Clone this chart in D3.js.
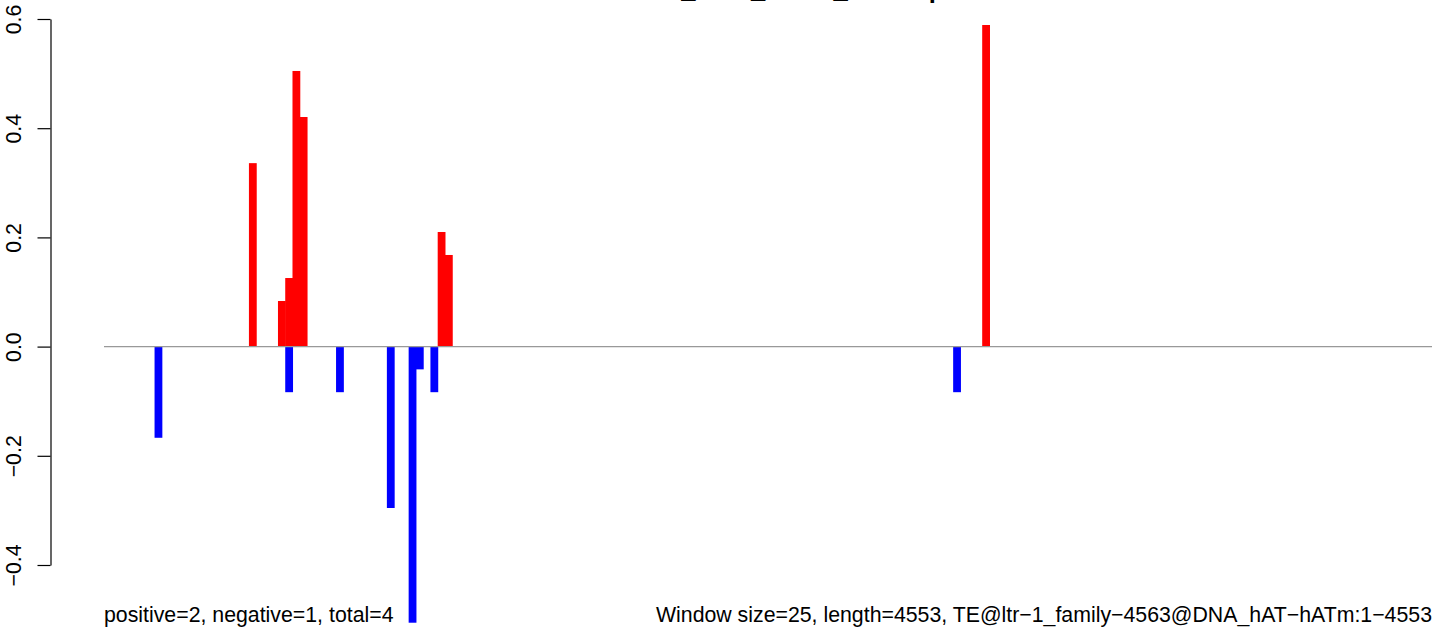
<!DOCTYPE html>
<html>
<head>
<meta charset="utf-8">
<script src="https://cdn.jsdelivr.net/npm/d3@7"></script>
<style>
  html, body { margin: 0; padding: 0; background: #fff; }
  svg { display: block; }
  text { font-family: "Liberation Sans", Arial, Helvetica, sans-serif; }
</style>
</head>
<body>
<svg id="chart" width="1444" height="634"></svg>
<script>
// ---- data ----
const windowSize = 25;
const seqLength = 4553;
// positive (red) windows: start position (bp) and value
const posStarts = [500, 600, 625, 650, 675, 1150, 1175, 3025];
const posValues = [0.336, 0.0835, 0.1256, 0.5048, 0.4205, 0.2099, 0.1678, 0.589];
// negative (blue) windows
const negStarts = [175, 625, 800, 975, 1050, 1075, 1125, 2925];
const negValues = [-0.167, -0.0835, -0.0835, -0.2956, -0.5057, -0.0417, -0.0835, -0.0835];
const yTicks = [-0.4, -0.2, 0.0, 0.2, 0.4, 0.6];
const yTickLabels = ["\u22120.4", "\u22120.2", "0.0", "0.2", "0.4", "0.6"];
const titleText = "ovaries_run1_reads_cleanup";
const leftNote = "positive=2, negative=1, total=4";
const rightNote = "Window size=25, length=4553, TE@ltr\u22121_family\u22124563@DNA_hAT\u2212hATm:1\u22124553";

// ---- layout ----
const plotLeft = 104, plotRight = 1432;
const svg = d3.select("#chart");
const x = d3.scaleLinear().domain([0, 4573]).range([plotLeft, plotRight]);
const y = d3.scaleLinear().domain([-0.4, 0.6]).range([565, 19]);
const barW = 7.8;
const fs = 21.3;

// title (mostly clipped above the frame, as in the reference)
svg.append("text")
  .attr("x", (plotLeft + plotRight) / 2)
  .attr("y", -2)
  .attr("text-anchor", "middle")
  .attr("font-weight", "bold")
  .attr("font-size", 25.6)
  .attr("fill", "#000")
  .text(titleText);

// bars
const pos = posStarts.map((s, i) => ({ s, v: posValues[i] }));
const neg = negStarts.map((s, i) => ({ s, v: negValues[i] }));

svg.append("g").selectAll("rect").data(pos).join("rect")
  .attr("x", d => x(d.s + windowSize / 2) - barW / 2)
  .attr("width", barW)
  .attr("y", d => y(d.v))
  .attr("height", d => y(0) - y(d.v))
  .attr("fill", "#ff0000");

svg.append("g").selectAll("rect").data(neg).join("rect")
  .attr("x", d => x(d.s + windowSize / 2) - barW / 2)
  .attr("width", barW)
  .attr("y", y(0))
  .attr("height", d => y(d.v) - y(0))
  .attr("fill", "#0000ff");

// zero line
svg.append("line")
  .attr("x1", plotLeft).attr("x2", plotRight)
  .attr("y1", y(0)).attr("y2", y(0))
  .attr("stroke", "#999999")
  .attr("stroke-width", 1.2);

// y axis
const yAxis = d3.axisLeft(y)
  .tickValues(yTicks)
  .tickSize(13)
  .tickSizeOuter(0)
  .tickFormat((d, i) => yTickLabels[i]);

const gy = svg.append("g")
  .attr("transform", "translate(50.5,0)")
  .call(yAxis);
gy.select(".domain").attr("stroke", "#000").attr("stroke-width", 1.2);
gy.selectAll(".tick line").attr("stroke", "#000").attr("stroke-width", 1.2);
gy.selectAll(".tick text")
  .attr("x", 0)
  .attr("y", -29.5)
  .attr("dy", null)
  .attr("transform", "rotate(-90)")
  .attr("text-anchor", "middle")
  .attr("font-size", fs)
  .attr("font-family", "'Liberation Sans', Arial, sans-serif")
  .attr("fill", "#000");

// bottom notes
svg.append("text")
  .attr("x", plotLeft).attr("y", 622)
  .attr("text-anchor", "start")
  .attr("font-size", fs)
  .attr("fill", "#000")
  .text(leftNote);

svg.append("text")
  .attr("x", plotRight).attr("y", 622)
  .attr("text-anchor", "end")
  .attr("font-size", fs)
  .attr("fill", "#000")
  .text(rightNote);
</script>
</body>
</html>
